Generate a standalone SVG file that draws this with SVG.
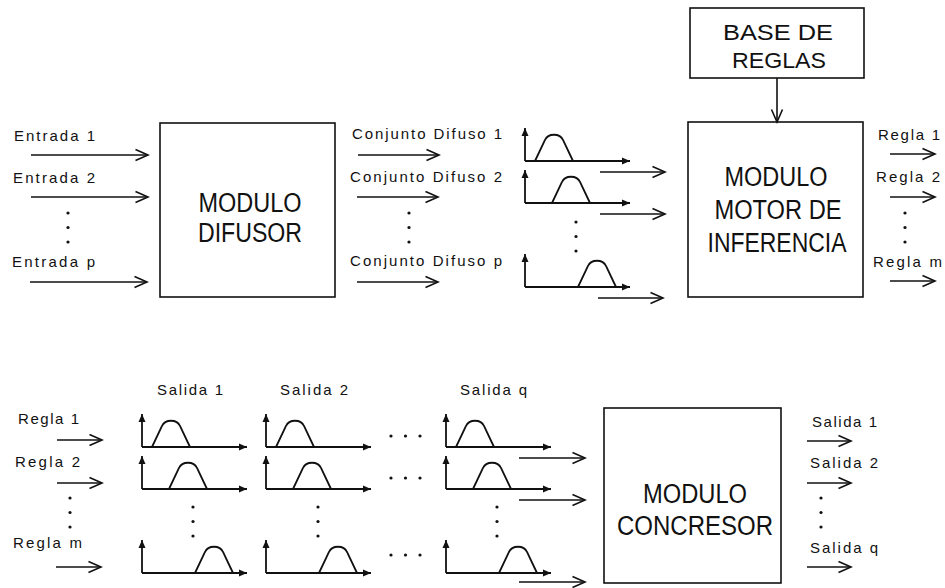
<svg xmlns="http://www.w3.org/2000/svg" xmlns:xlink="http://www.w3.org/1999/xlink" width="945" height="588" viewBox="0 0 945 588">
<style>
  .box { fill: #fff; stroke: #111; stroke-width: 1.6; }
  .big { font-family: "Liberation Sans", Arial, sans-serif; font-size: 27px; fill: #111; text-anchor: middle; }
  .mid { font-family: "Liberation Sans", Arial, sans-serif; font-size: 22px; fill: #111; text-anchor: middle; }
  .lbl { font-family: "Liberation Sans", Arial, sans-serif; font-size: 15px; fill: #111; }
  .conn { stroke: #111; stroke-width: 1.6; fill: none; marker-end: url(#open); }
  .axis { stroke: #111; stroke-width: 1.8; fill: none; marker-end: url(#solid); }
  .bump { stroke: #111; stroke-width: 1.8; fill: none; }
  .dot { fill: #111; }
</style>
<defs>
  <marker id="open" markerUnits="userSpaceOnUse" markerWidth="14" markerHeight="12" refX="12.5" refY="5.5" orient="auto" overflow="visible">
    <path d="M0,0 L12.5,5.5 L0,11" fill="none" stroke="#111" stroke-width="1.6"/>
  </marker>
  <marker id="solid" markerUnits="userSpaceOnUse" markerWidth="10" markerHeight="8" refX="8" refY="3.5" orient="auto" overflow="visible">
    <path d="M0,0 L8,3.5 L0,7 z" fill="#111"/>
  </marker>
  <g id="axes">
    <line class="axis" x1="0" y1="0" x2="0" y2="-33"/>
    <line class="axis" x1="0" y1="0" x2="105" y2="0"/>
  </g>
  <path id="bump" class="bump" d="M0,0 L10,-21 C13,-28 25,-28 28,-21 L38,0"/>
  <g id="plotA"><use xlink:href="#axes"/><use xlink:href="#bump" x="10"/></g>
  <g id="plotB"><use xlink:href="#axes"/><use xlink:href="#bump" x="27"/></g>
  <g id="plotC"><use xlink:href="#axes"/><use xlink:href="#bump" x="53"/></g>
  <g id="vdots"><circle class="dot" cx="0" cy="0" r="1.6"/><circle class="dot" cx="0" cy="14.5" r="1.6"/><circle class="dot" cx="0" cy="29" r="1.6"/></g>
  <g id="hdots"><circle class="dot" cx="0" cy="0" r="1.6"/><circle class="dot" cx="14.5" cy="0" r="1.6"/><circle class="dot" cx="29" cy="0" r="1.6"/></g>
</defs>
<rect width="945" height="588" fill="#fff"/>

<g id="difusor">
  <rect class="box" x="160" y="123" width="175" height="174"/>
  <text class="big" x="250" y="212" textLength="103" lengthAdjust="spacingAndGlyphs">MODULO</text>
  <text class="big" x="250" y="242" textLength="104" lengthAdjust="spacingAndGlyphs">DIFUSOR</text>
</g>

<g id="base-reglas">
  <rect class="box" x="690" y="8" width="174" height="70"/>
  <text class="mid" x="778" y="40" textLength="110" lengthAdjust="spacingAndGlyphs">BASE DE</text>
  <text class="mid" x="779" y="68" textLength="94" lengthAdjust="spacingAndGlyphs">REGLAS</text>
</g>

<g id="motor">
  <rect class="box" x="688" y="122" width="175" height="175"/>
  <text class="big" x="776" y="186" textLength="103" lengthAdjust="spacingAndGlyphs">MODULO</text>
  <text class="big" x="778" y="219" textLength="127" lengthAdjust="spacingAndGlyphs">MOTOR DE</text>
  <text class="big" x="777" y="252" textLength="139" lengthAdjust="spacingAndGlyphs">INFERENCIA</text>
</g>

<g id="concresor">
  <rect class="box" x="604" y="408" width="177" height="175"/>
  <text class="big" x="695" y="503" textLength="104" lengthAdjust="spacingAndGlyphs">MODULO</text>
  <text class="big" x="695" y="535" textLength="156" lengthAdjust="spacingAndGlyphs">CONCRESOR</text>
</g>

<g id="conjuntos-difusos">
  <use xlink:href="#plotA" x="525" y="161"/>
  <use xlink:href="#plotB" x="525" y="203"/>
  <use xlink:href="#vdots" x="576" y="222"/>
  <use xlink:href="#plotC" x="525" y="287"/>
</g>

<g id="salida-1">
  <text class="lbl" x="157" y="395" textLength="66">Salida 1</text>
  <use xlink:href="#plotA" x="142" y="447"/>
  <use xlink:href="#plotB" x="142" y="489"/>
  <use xlink:href="#vdots" x="193" y="507"/>
  <use xlink:href="#plotC" x="142" y="573"/>
</g>
<g id="salida-2">
  <text class="lbl" x="280" y="395" textLength="68">Salida 2</text>
  <use xlink:href="#plotA" x="266" y="447"/>
  <use xlink:href="#plotB" x="266" y="489"/>
  <use xlink:href="#vdots" x="318" y="507"/>
  <use xlink:href="#plotC" x="266" y="573"/>
</g>
<g id="salida-dots">
  <use xlink:href="#hdots" x="391" y="436"/>
  <use xlink:href="#hdots" x="391" y="478"/>
  <use xlink:href="#hdots" x="391" y="555"/>
</g>
<g id="salida-q">
  <text class="lbl" x="460" y="395" textLength="67">Salida q</text>
  <use xlink:href="#plotA" x="446" y="447"/>
  <use xlink:href="#plotB" x="446" y="489"/>
  <use xlink:href="#vdots" x="497" y="507"/>
  <use xlink:href="#plotC" x="446" y="573"/>
</g>

<g id="labels">
  <text class="lbl" x="14" y="141" textLength="81">Entrada 1</text>
  <text class="lbl" x="13" y="183" textLength="82">Entrada 2</text>
  <use xlink:href="#vdots" x="68" y="213"/>
  <text class="lbl" x="12" y="267" textLength="83">Entrada p</text>

  <text class="lbl" x="352" y="139" textLength="150">Conjunto Difuso 1</text>
  <text class="lbl" x="350" y="182" textLength="152">Conjunto Difuso 2</text>
  <use xlink:href="#vdots" x="409" y="213"/>
  <text class="lbl" x="350" y="266" textLength="152">Conjunto Difuso p</text>

  <text class="lbl" x="878" y="140" textLength="62">Regla 1</text>
  <text class="lbl" x="876" y="182" textLength="64">Regla 2</text>
  <use xlink:href="#vdots" x="905" y="213"/>
  <text class="lbl" x="873" y="267" textLength="69">Regla m</text>

  <text class="lbl" x="18" y="424" textLength="61">Regla 1</text>
  <text class="lbl" x="15" y="467" textLength="65">Regla 2</text>
  <use xlink:href="#vdots" x="70" y="498"/>
  <text class="lbl" x="13" y="548" textLength="69">Regla m</text>

  <text class="lbl" x="812" y="427" textLength="65">Salida 1</text>
  <text class="lbl" x="810" y="468" textLength="68">Salida 2</text>
  <use xlink:href="#vdots" x="821" y="498"/>
  <text class="lbl" x="810" y="553" textLength="68">Salida q</text>
</g>

<g id="connectors">
  <line class="conn" x1="31" y1="155" x2="148" y2="155"/>
  <line class="conn" x1="31" y1="197" x2="148" y2="197"/>
  <line class="conn" x1="30" y1="282" x2="147" y2="282"/>

  <line class="conn" x1="358" y1="155" x2="439" y2="155"/>
  <line class="conn" x1="357" y1="197" x2="438" y2="197"/>
  <line class="conn" x1="357" y1="282" x2="438" y2="282"/>

  <line class="conn" x1="600" y1="172" x2="665" y2="172"/>
  <line class="conn" x1="600" y1="214" x2="665" y2="214"/>
  <line class="conn" x1="598" y1="298" x2="663" y2="298"/>

  <line class="conn" x1="777" y1="78" x2="777" y2="122"/>

  <line class="conn" x1="890" y1="154" x2="935" y2="154"/>
  <line class="conn" x1="890" y1="197" x2="935" y2="197"/>
  <line class="conn" x1="890" y1="281" x2="935" y2="281"/>

  <line class="conn" x1="57" y1="440" x2="102" y2="440"/>
  <line class="conn" x1="57" y1="483" x2="102" y2="483"/>
  <line class="conn" x1="56" y1="567" x2="101" y2="567"/>

  <line class="conn" x1="519" y1="458" x2="585" y2="458"/>
  <line class="conn" x1="519" y1="500" x2="585" y2="500"/>
  <line class="conn" x1="519" y1="582" x2="585" y2="582"/>

  <line class="conn" x1="807" y1="441" x2="851" y2="441"/>
  <line class="conn" x1="807" y1="483" x2="851" y2="483"/>
  <line class="conn" x1="807" y1="567" x2="851" y2="567"/>
</g>
</svg>
